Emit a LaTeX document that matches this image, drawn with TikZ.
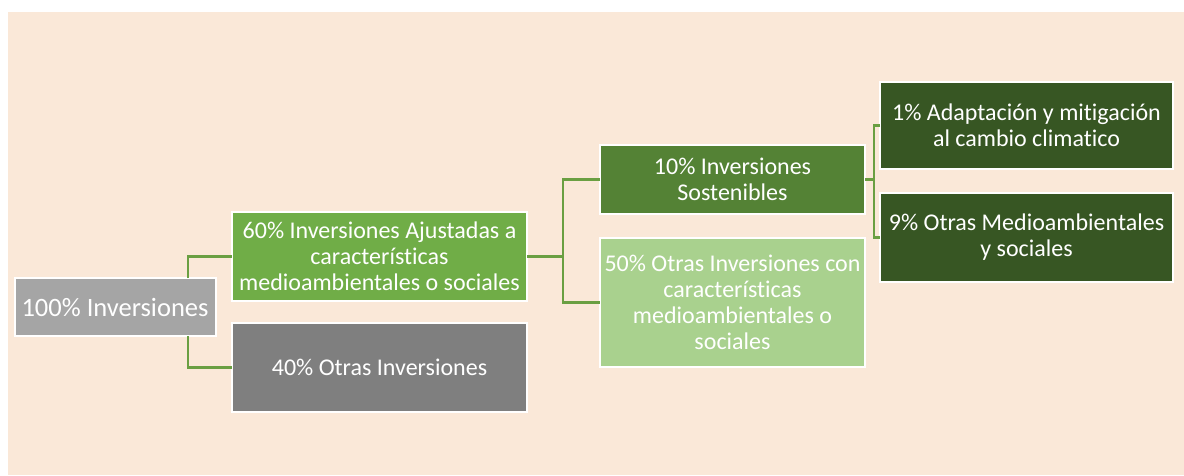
\documentclass[tikz,border=0pt]{standalone}
\usepackage{fontspec}
\setmainfont{Carlito}[Ligatures={NoCommon}]
\definecolor{bgc}{HTML}{FAE8D8}
\definecolor{gLight}{HTML}{A9D18E}
\definecolor{gMid}{HTML}{70AD47}
\definecolor{gDark}{HTML}{548235}
\definecolor{gDeep}{HTML}{375623}
\definecolor{grayA}{HTML}{A5A5A5}
\definecolor{grayB}{HTML}{7F7F7F}
\definecolor{conn}{HTML}{6A9F42}
\tikzset{
  box/.style={draw=white, line width=2pt, text=white, align=center, inner sep=0pt, outer sep=0pt,
    font=\fontsize{24}{26}\selectfont},
  link/.style={draw=conn, line width=2.5pt}
}
\begin{document}
\begin{tikzpicture}[x=1pt,y=-1pt]
\useasboundingbox (0,0) rectangle (1184,475);
\fill[bgc] (8,12) rectangle (1184,475);
\node[box, fill=grayA, minimum width=201pt, minimum height=58pt, font=\fontsize{26.5}{30}\selectfont] (a) at (115,307) {100\% Inversiones};
\node[box, fill=gMid, minimum width=295pt, minimum height=89pt] (b) at (379.5,256.5) {60\% Inversiones Ajustadas a\\características\\medioambientales o sociales};
\node[box, fill=grayB, minimum width=295pt, minimum height=89pt] (c) at (379.5,367.5) {40\% Otras Inversiones};
\node[box, fill=gDark, minimum width=265pt, minimum height=69pt] (d) at (732.5,179.5) {10\% Inversiones\\Sostenibles};
\node[box, fill=gLight, minimum width=265pt, minimum height=129pt] (e) at (732.5,302.5) {50\% Otras Inversiones con\\características\\medioambientales o\\sociales};
\node[box, fill=gDeep, minimum width=293pt, minimum height=87pt] (f) at (1026.5,125.5) {1\% Adaptación y mitigación\\al cambio climatico};
\node[box, fill=gDeep, minimum width=293pt, minimum height=89pt] (g) at (1026.5,237.5) {9\% Otras Medioambientales\\y sociales};
\coordinate (j1) at (188,0);
\coordinate (j2) at (563,0);
\coordinate (j3) at (874,0);
\draw[link] (j1 |- a.north) -- (j1 |- b.west) -- (b.west);
\draw[link] (j1 |- a.south) -- (j1 |- c.west) -- (c.west);
\draw[link] (d.west) -- (j2 |- d.west) -- (j2 |- e.west) -- (e.west);
\draw[link] (b.east) -- (j2 |- b.east);
\draw[link] (f.west) -- (j3 |- f.west) -- (j3 |- g.west) -- (g.west);
\draw[link] (d.east) -- (j3 |- d.east);
\end{tikzpicture}
\end{document}
